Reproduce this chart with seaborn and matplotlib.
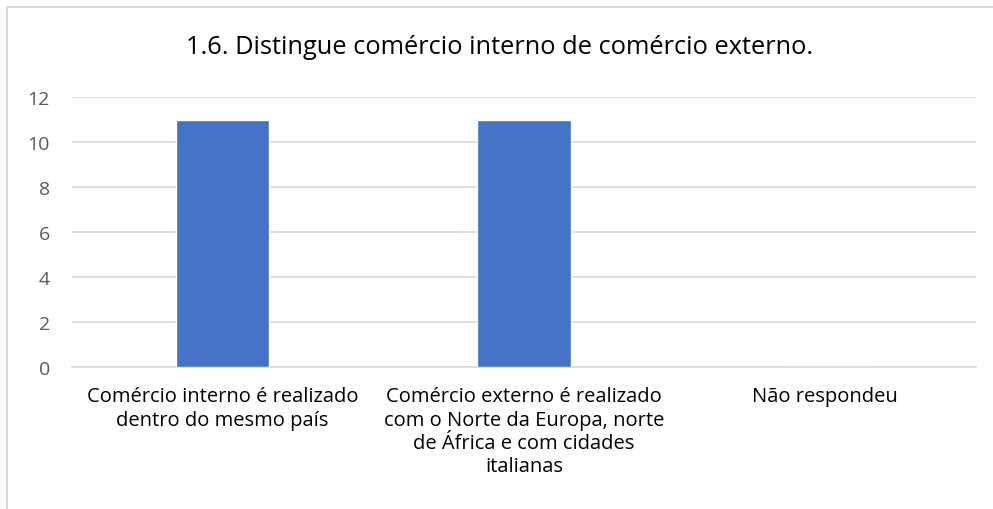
import matplotlib
matplotlib.use("Agg")
import matplotlib.pyplot as plt
import seaborn as sns
import pandas as pd
from matplotlib.lines import Line2D

categories = [
    "Comércio interno é realizado\ndentro do mesmo país",
    "Comércio externo é realizado\ncom o Norte da Europa, norte\nde África e com cidades\nitalianas",
    "Não respondeu",
]
values = [11, 11, 0]
title = "1.6. Distingue comércio interno de comércio externo."

sns.set_theme(style="white")
plt.rcParams['font.family'] = ['Open Sans', 'DejaVu Sans']

df = pd.DataFrame({"cat": categories, "val": values})

fig = plt.figure(figsize=(9.93, 5.10), dpi=100)
ax = fig.add_axes([72 / 993, 1 - 368 / 510, (976 - 72) / 993, (368 - 98) / 510])

sns.barplot(data=df, x="cat", y="val", color="#4472C4", width=0.31,
            saturation=1, ax=ax, zorder=3)

ax.set_ylim(0, 12)
ax.set_yticks(range(0, 13, 2))
ax.yaxis.grid(True, color="#D9D9D9", linewidth=1.2, zorder=0)
ax.set_xlabel("")
ax.set_ylabel("")
for s in ["top", "right", "left"]:
    ax.spines[s].set_visible(False)
ax.spines["bottom"].set_color("#D9D9D9")
ax.spines["bottom"].set_linewidth(1.2)
ax.tick_params(axis="y", length=0, colors="#595959", labelsize=14, pad=16)
ax.tick_params(axis="x", length=0, colors="#000000", labelsize=14.5, pad=14)
for lbl in ax.get_xticklabels():
    lbl.set_linespacing(1.22)

fig.text(0.503, 1 - 48 / 510, title, ha="center", va="center", fontsize=18.3, color="#000000")

# chart area border (cropped on right and bottom)
fig.add_artist(Line2D([7 / 993, 7 / 993], [0, 1 - 8 / 510], color="#D9D9D9", linewidth=1.5))
fig.add_artist(Line2D([7 / 993, 1], [1 - 8 / 510, 1 - 8 / 510], color="#D9D9D9", linewidth=1.5))

fig.savefig("out.png", dpi=100)
